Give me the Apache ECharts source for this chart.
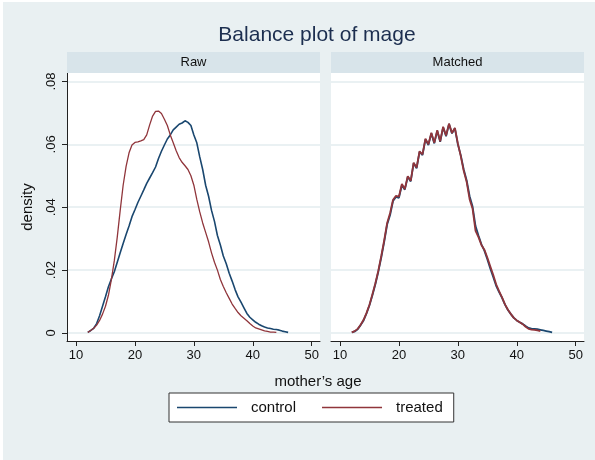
<!DOCTYPE html>
<html>
<head>
<meta charset="utf-8">
<script src="https://cdn.jsdelivr.net/npm/echarts@6/dist/echarts.min.js"></script>
<style>
html,body{margin:0;padding:0;background:#ffffff;}
#bg{position:absolute;left:3px;top:2px;right:0;bottom:0;background:#e9f0f2;}
#chart{position:absolute;left:0;top:0;width:595px;height:460px;}
</style>
</head>
<body>
<div id="bg"></div>
<div id="chart"></div>
<script>
// ---- data ----
const ageControl = [12,12.5,13,13.5,14,14.5,15,15.5,16,16.5,17,17.5,18,18.5,19,19.5,20,20.5,21,21.5,22,22.5,23,23.5,24,24.5,25,25.5,26,26.5,27,27.5,28,28.5,29,29.5,30,30.5,31,31.5,32,32.5,33,33.5,34,34.5,35,35.5,36,36.5,37,37.5,38,38.5,39,39.5,40,40.5,41,41.5,42,42.5,43,43.5,44,44.5,45,45.5,46];
const ageTreated = [12,12.5,13,13.5,14,14.5,15,15.5,16,16.5,17,17.5,18,18.5,19,19.5,20,20.5,21,21.5,22,22.5,23,23.5,24,24.5,25,25.5,26,26.5,27,27.5,28,28.5,29,29.5,30,30.5,31,31.5,32,32.5,33,33.5,34,34.5,35,35.5,36,36.5,37,37.5,38,38.5,39,39.5,40,40.5,41,41.5,42,42.5,43,43.5,44];

const rawControl = [0.0002,0.0008,0.0015,0.0030,0.0055,0.0085,0.0115,0.0147,0.0172,0.0195,0.0225,0.0255,0.0285,0.0313,0.0340,0.0370,0.0392,0.0415,0.0435,0.0455,0.0476,0.0493,0.0510,0.0528,0.0555,0.0578,0.0598,0.0617,0.0630,0.0646,0.0655,0.0664,0.0668,0.0675,0.0670,0.0660,0.0630,0.0605,0.0560,0.0520,0.0470,0.0435,0.0390,0.0355,0.0310,0.0280,0.0245,0.0220,0.0190,0.0165,0.0138,0.0115,0.0098,0.0080,0.0062,0.0050,0.0042,0.0034,0.0028,0.0023,0.0019,0.0016,0.0014,0.0012,0.0011,0.0009,0.0006,0.0004,0.0002];
const rawTreated = [0.0002,0.0008,0.0015,0.0025,0.0040,0.0060,0.0085,0.0120,0.0170,0.0230,0.0305,0.0390,0.0470,0.0530,0.0573,0.0598,0.0606,0.0608,0.0611,0.0615,0.0630,0.0662,0.0690,0.0705,0.0706,0.0698,0.0680,0.0660,0.0630,0.0605,0.0580,0.0558,0.0543,0.0532,0.0520,0.0500,0.0470,0.0425,0.0385,0.0350,0.0320,0.0290,0.0255,0.0225,0.0200,0.0170,0.0148,0.0128,0.0110,0.0092,0.0078,0.0065,0.0055,0.0047,0.0039,0.0030,0.0022,0.0016,0.0013,0.0010,0.0007,0.0005,0.0003,0.0003,0.0002];
const matchedControl = [0.0002,0.0005,0.0012,0.0025,0.0040,0.0062,0.0088,0.0120,0.0155,0.0195,0.0240,0.0290,0.0345,0.0375,0.0420,0.0433,0.0430,0.0470,0.0456,0.0497,0.0482,0.0540,0.0524,0.0576,0.0566,0.0616,0.0598,0.0635,0.0603,0.0643,0.0608,0.0654,0.0626,0.0665,0.0635,0.0651,0.0600,0.0565,0.0520,0.0485,0.0435,0.0402,0.0340,0.0310,0.0282,0.0262,0.0235,0.0205,0.0178,0.0150,0.0130,0.0112,0.0090,0.0073,0.0060,0.0048,0.0040,0.0034,0.0029,0.0022,0.0016,0.0014,0.0013,0.0012,0.0010,0.0008,0.0006,0.0004,0.0002];
const matchedTreated = [0.0002,0.0006,0.0013,0.0026,0.0042,0.0064,0.0090,0.0123,0.0158,0.0198,0.0245,0.0295,0.0350,0.0382,0.0424,0.0436,0.0434,0.0474,0.0458,0.0499,0.0484,0.0542,0.0526,0.0578,0.0568,0.0618,0.0600,0.0637,0.0605,0.0645,0.0610,0.0656,0.0628,0.0666,0.0636,0.0652,0.0603,0.0562,0.0515,0.0480,0.0425,0.0395,0.0325,0.0305,0.0280,0.0265,0.0240,0.0212,0.0185,0.0155,0.0133,0.0113,0.0091,0.0074,0.0060,0.0048,0.0040,0.0034,0.0028,0.0020,0.0013,0.0011,0.0010,0.0008,0.0006];

const xTicks = [10,20,30,40,50];
const yTicks = [0,0.02,0.04,0.06,0.08];
const panelNames = ['Raw','Matched'];
const seriesNames = ['control','treated'];

// ---- chart ----
const FONT = 'Liberation Sans, Arial, sans-serif';
const navy = '#1a476f', maroon = '#90353b';
const gridTop = 73, gridH = 268;
const panels = [{left:67,width:253},{left:331,width:253}];

function pairs(xs, ys){ return xs.map((x,i)=>[x, ys[i]]); }
function fmtY(v){ if (Math.abs(v) < 1e-9) return '0'; return (+v.toFixed(2)).toString().replace(/^0/,''); }

const grids = panels.map(p=>({left:p.left, top:gridTop, width:p.width, height:gridH, show:true, backgroundColor:'#ffffff', borderWidth:0, containLabel:false}));

const xAxes = panels.map((p,i)=>({
  type:'value', gridIndex:i, min:8.47, max:51.41,
  axisLine:{show:true, onZero:false, lineStyle:{color:'#222', width:1}},
  axisTick:{show:true, length:5, lineStyle:{color:'#222'}, customValues:xTicks},
  axisLabel:{show:true, customValues:xTicks, margin:8, color:'#111', fontSize:13, fontFamily:FONT},
  splitLine:{show:false}
}));

const yAxes = panels.map((p,i)=>({
  type:'value', gridIndex:i, min:-0.00255, max:0.0827,
  name: i===0 ? 'density' : '', nameLocation:'middle', nameGap:32, nameRotate:90,
  nameTextStyle:{fontSize:15, color:'#111', fontFamily:FONT},
  axisLine:{show:i===0, onZero:false, lineStyle:{color:'#222', width:1}},
  axisTick:{show:i===0, length:5, lineStyle:{color:'#222'}, customValues:yTicks},
  axisLabel:{show:i===0, customValues:yTicks, rotate:90, margin:9, color:'#111', fontSize:13, fontFamily:FONT, formatter:fmtY},
  splitLine:{show:true, lineStyle:{color:'#eaf1f3', width:2}}
}));

const mk = (name, xi, xs, ys, color, w) => ({
  name, type:'line', xAxisIndex:xi, yAxisIndex:xi, data:pairs(xs, ys),
  showSymbol:false, symbol:'none', smooth:false, animation:false,
  lineStyle:{color, width:w}, itemStyle:{color}, z: name==='treated'?3:2
});

const series = [
  mk(seriesNames[0], 0, ageControl, rawControl, navy, 1.6),
  mk(seriesNames[1], 0, ageTreated, rawTreated, maroon, 1.3),
  mk(seriesNames[0], 1, ageControl, matchedControl, navy, 1.8),
  mk(seriesNames[1], 1, ageTreated, matchedTreated, maroon, 1.8)
];

const strips = [];
panels.forEach((p,i)=>{
  strips.push({type:'rect', left:p.left, top:52, shape:{width:p.width, height:21}, style:{fill:'#d8e4ea'}, z:1});
  strips.push({type:'text', x:p.left+p.width/2, y:62.5, style:{text:panelNames[i], fill:'#111', font:'13px '+FONT, textAlign:'center', textVerticalAlign:'middle'}, z:2});
});

const chart = echarts.init(document.getElementById('chart'), null, {renderer:'canvas'});
chart.setOption({
  backgroundColor:'transparent',
  animation:false,
  title:[
    {text:'Balance plot of mage', left:312, top:20, textAlign:'center', textStyle:{fontSize:21, fontWeight:'normal', color:'#1c2e4f', fontFamily:FONT}},
    {text:'mother\u2019s age', left:313, top:369, textAlign:'center', textStyle:{fontSize:15, fontWeight:'normal', color:'#111', fontFamily:FONT}}
  ],
  legend:{
    data:seriesNames, left:169, top:393, orient:'horizontal',
    icon:'rect', itemWidth:60, itemHeight:1.5, itemGap:26,
    padding:[7,11,7,8], backgroundColor:'#ffffff', borderColor:'#333', borderWidth:1, borderRadius:0,
    textStyle:{fontSize:15, color:'#111', fontFamily:FONT, padding:[0,0,0,9]}
  },
  grid:grids, xAxis:xAxes, yAxis:yAxes, series,
  graphic:strips
});
</script>
</body>
</html>
